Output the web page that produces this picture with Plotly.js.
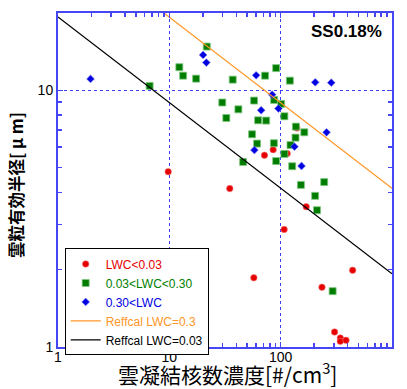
<!DOCTYPE html>
<html>
<head>
<meta charset="utf-8">
<script src="https://cdn.plot.ly/plotly-3.0.1.min.js"></script>
<style>html,body{margin:0;padding:0;background:#fff;}</style>
</head>
<body>
<div id="chart" style="width:407px;height:389px;"></div>
<script>
// LWC<0.03 (red circles)
const redN    = [9.77, 34.9, 71.5, 85.6, 114.4, 139.9, 169.6, 107.5, 57.4, 234.9, 443, 304.9, 343.2, 343.2, 386.3];
const redReff = [4.82, 4.14, 5.58, 5.87, 5.67, 7.13, 3.52, 2.87, 1.86, 1.71, 1.99, 1.144, 1.084, 1.052, 1.062];
// 0.03<LWC<0.30 (green squares)
const greenN    = [21.7, 17.4, 37.1, 72.5, 91.1, 121, 29.9, 57.7, 41.7, 32.5, 87.4, 101, 108, 62.7, 74.1, 55.4, 137, 163, 136,
                   12.3, 13.3, 6.65, 61.4, 86.9, 122.5, 108, 91.1, 46.0, 127, 152, 246, 204, 212, 293];
const greenReff = [14.8, 11.1, 11.0, 11.4, 12.2, 10.9, 8.96, 9.12, 8.43, 7.80, 9.17, 8.85, 7.92, 7.64, 7.62, 6.74, 7.22, 6.86, 6.54,
                   12.3, 11.4, 10.4, 6.20, 6.22, 6.12, 5.65, 5.30, 5.26, 5.06, 4.28, 4.39, 3.88, 3.41, 1.65];
// 0.30<LWC (blue diamonds)
const blueN    = [20.1, 21.5, 60.2, 83.8, 66.8, 95.5, 204.4, 284.7, 258.4, 58.1, 133.1, 153.9, 1.96];
const blueReff = [13.73, 12.82, 11.44, 9.62, 8.36, 8.49, 10.74, 10.71, 6.86, 5.85, 6.03, 5.07, 11.07];
// Reffcal lines (end points)
const calN = [1, 1000];
const calReff03  = [41.5, 4.15];
const calReff003 = [19.3, 1.93];

const axisBlue = 'rgb(70,70,245)';

const traces = [
  {x: redN, y: redReff, type: 'scatter', mode: 'markers',
   name: '<span style="color:rgb(230,0,0)">LWC&lt;0.03</span>',
   marker: {symbol: 'circle', size: 6.5, color: 'rgb(230,0,0)', line: {width: 0.6, color: 'rgb(245,120,120)'}}},
  {x: greenN, y: greenReff, type: 'scatter', mode: 'markers',
   name: '<span style="color:rgb(0,128,0)">0.03&lt;LWC&lt;0.30</span>',
   marker: {symbol: 'square', size: 7, color: 'rgb(0,125,0)', line: {width: 0.8, color: 'rgb(130,200,130)'}}},
  {x: blueN, y: blueReff, type: 'scatter', mode: 'markers',
   name: '<span style="color:rgb(0,0,230)">0.30&lt;LWC</span>',
   marker: {symbol: 'diamond', size: 6, color: 'rgb(0,0,225)', line: {width: 0.6, color: 'rgb(120,120,250)'}}},
  {x: calN, y: calReff03, type: 'scatter', mode: 'lines',
   name: '<span style="color:rgb(255,150,40)">Reffcal LWC=0.3</span>',
   line: {color: 'rgb(255,150,40)', width: 1.2}},
  {x: calN, y: calReff003, type: 'scatter', mode: 'lines',
   name: 'Reffcal LWC=0.03',
   line: {color: 'rgb(0,0,0)', width: 1.2}}
];

const commonAxis = {
  type: 'log', dtick: 1, exponentformat: 'none',
  showline: true, linecolor: axisBlue, linewidth: 2, mirror: 'allticks',
  ticks: 'inside', ticklen: 5, tickwidth: 1.5, tickcolor: axisBlue,
  showgrid: true, gridcolor: 'rgb(60,60,255)', griddash: 'dot', gridwidth: 1,
  zeroline: false, automargin: false,
  tickfont: {family: 'Liberation Sans, Arial, sans-serif', size: 14, color: '#000'},
  minor: {dtick: 'D1', ticks: 'inside', ticklen: 4, tickwidth: 1.5, tickcolor: axisBlue, showgrid: false}
};

const layout = {
  width: 407, height: 389,
  margin: {l: 58, r: 15, t: 13, b: 42},
  paper_bgcolor: '#fff', plot_bgcolor: '#fff',
  xaxis: Object.assign({}, commonAxis, {range: [0, 3], ticklabelstandoff: -4}),
  yaxis: Object.assign({}, commonAxis, {range: [0, Math.log10(20)]}),
  showlegend: true,
  legend: {x: 0.02, y: 0.295, xanchor: 'left', yanchor: 'top',
           bgcolor: '#fff', bordercolor: '#000', borderwidth: 1,
           font: {family: 'Liberation Sans, Arial, sans-serif', size: 12, color: '#000'},
           itemwidth: 30, tracegroupgap: 0},
  annotations: [
    {text: '<b>SS0.18%</b>', xref: 'paper', yref: 'paper', x: 0.975, y: 0.945,
     xanchor: 'right', yanchor: 'middle', showarrow: false,
     font: {family: 'Liberation Sans, Arial, sans-serif', size: 17, color: '#000'}},
    {text: '雲凝結核数濃度[#/cm<sup>3</sup>]', xref: 'paper', yref: 'paper', x: 0.507, y: -0.077,
     xanchor: 'center', yanchor: 'middle', showarrow: false,
     font: {family: 'Noto Sans CJK JP, sans-serif', size: 21, color: '#000'}},
    {text: '<b>雲粒有効半径[ μ m]</b>', xref: 'paper', yref: 'paper', x: -0.126, y: 0.485,
     xanchor: 'center', yanchor: 'middle', showarrow: false, textangle: -90,
     font: {family: 'Noto Sans CJK JP, sans-serif', size: 16.5, color: '#000'}}
  ]
};

Plotly.newPlot('chart', traces, layout, {displayModeBar: false, staticPlot: true});
</script>
</body>
</html>
